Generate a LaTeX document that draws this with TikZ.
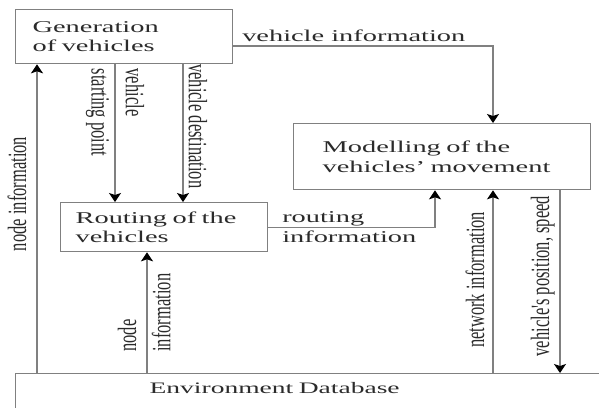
\documentclass[tikz,border=0pt]{standalone}
\usepackage{fontspec}
\setmainfont[FakeStretch=1.72]{Liberation Serif}
\newfontfamily\uprightfont{Liberation Serif}
\usepackage{graphicx}
\usepackage{xcolor}
\usetikzlibrary{arrows.meta,positioning}
\definecolor{wire}{HTML}{808080}
\definecolor{ink}{HTML}{2B2B2B}
\newcommand{\sidelabel}[1]{\scalebox{1}[1.6]{\uprightfont\begin{tabular}{@{}l@{}}#1\end{tabular}}}

\begin{document}
\begin{tikzpicture}[x=1bp,y=-1bp,>={Stealth[length=9bp,width=12bp,inset=2bp,color=black]},
  font=\fontsize{16.5bp}{19.5bp}\selectfont,text=ink,
  box/.style={draw=wire,line width=1.3bp,anchor=north west,align=left,inner ysep=0pt},
  flow/.style={draw=wire,line width=1.3bp,->},
  tag/.style={inner sep=2bp}]
\useasboundingbox (0,0) rectangle (599,407);
\clip (0,0) rectangle (599,407);
% blocks
\node[box,minimum height=54bp,text width=183bp,inner xsep=17bp] (gen) at (15,9) {Generation\\of vehicles};
\node[box,minimum height=66bp,text width=239bp,inner xsep=29bp] (model) at (293,123) {Modelling of the\\vehicles' movement};
\node[box,minimum height=49bp,text width=177bp,inner xsep=15bp] (route) at (60,202) {Routing of the\\vehicles};
\node[box,minimum height=40bp,text width=386bp,inner xsep=134bp,text depth=12bp] (env) at (15,373) {\fontsize{16bp}{19bp}\selectfont Environment Database};
% where the connectors run
\coordinate (infoy) at (0,46);
\coordinate (leftx) at (37,0);
\coordinate (startx) at (115,0);
\coordinate (infox) at (147,0);
\coordinate (destx) at (183,0);
\coordinate (routex) at (435,0);
\coordinate (netx) at (493,0);
\coordinate (posx) at (560,0);
% connectors
\draw[flow] (gen.east |- infoy) -| (model.north -| netx) node[pos=0,anchor=south west,xshift=5bp] {vehicle information};
\draw[flow] (gen.south -| startx) -- (route.north -| startx) node[tag,pos=.35,rotate=-90] {\sidelabel{vehicle\\[2bp]starting point}};
\draw[flow] (gen.south -| destx) -- (route.north -| destx) node[tag,pos=.45,xshift=12bp,rotate=-90] {\sidelabel{vehicle destination}};
\draw[flow] (env.north -| leftx) -- (gen.south -| leftx) node[tag,pos=.58,xshift=-17bp,rotate=90] {\sidelabel{node information}};
\draw[flow] (env.north -| infox) -- (route.south -| infox) node[tag,midway,rotate=90] {\sidelabel{node\\[2bp]information}};
\draw[flow] (route.east) -| (model.south -| routex) node[pos=0,anchor=west,align=left,xshift=10bp] {routing\\information};
\draw[flow] (env.north -| netx) -- (model.south -| netx) node[tag,pos=.51,xshift=-15bp,rotate=90] {\sidelabel{network information}};
\draw[flow] (model.south -| posx) -- (env.north -| posx) node[tag,pos=.47,xshift=-17bp,rotate=90] {\sidelabel{vehicle's position, speed}};
\end{tikzpicture}
\end{document}
